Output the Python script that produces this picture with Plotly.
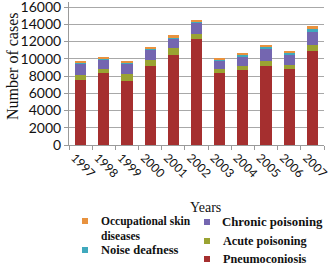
import plotly.graph_objects as go

years = ["1997", "1998", "1999", "2000", "2001", "2002", "2003", "2004", "2005", "2006", "2007"]
pneumoconiosis = [7550, 8300, 7450, 9150, 10450, 12250, 8400, 8750, 9150, 8800, 10950]
acute_poisoning = [550, 500, 800, 720, 760, 650, 470, 400, 580, 500, 650]
chronic_poisoning = [1300, 1100, 1150, 1150, 1150, 1250, 880, 1150, 1450, 1150, 1550]
noise_deafness = [120, 120, 110, 150, 150, 130, 120, 150, 200, 220, 260]
skin_diseases = [150, 150, 150, 200, 200, 180, 150, 180, 230, 260, 330]
y_ticks = [0, 2000, 4000, 6000, 8000, 10000, 12000, 14000, 16000]

names = ["Pneumoconiosis", "Acute poisoning", "Chronic poisoning", "Noise deafness", "Occupational skin diseases"]
colors = ["#A52F2F", "#9AA332", "#7466B0", "#3FA9BD", "#E8923E"]
series = [pneumoconiosis, acute_poisoning, chronic_poisoning, noise_deafness, skin_diseases]

W, H = 331, 266
L, R, T, B = 69, 7, 2, 121
Y_TOP = 16000 * (H - B - T) / 138.0

fig = go.Figure()
for nm, col, vals in zip(names, colors, series):
    fig.add_trace(go.Bar(x=years, y=vals, name=nm, marker=dict(color=col, line=dict(width=0)),
                         showlegend=False))

def px(xp):
    return (xp - L) / (W - L - R)

def py(yp):
    return (H - B - yp) / (H - T - B)

legend_items = [
    ("Occupational skin<br>diseases", colors[4], 85, 221, 99, 11.5, 228),
    ("Noise deafness", colors[3], 85, 250, 99, 12.5, 250),
    ("Chronic poisoning", colors[2], 207, 222, 220, 12.8, 222),
    ("Acute poisoning", colors[1], 207, 241, 221, 12.2, 241),
    ("Pneumoconiosis", colors[0], 207, 259, 221, 12.2, 259),
]
shapes = []
annotations = []
for text, col, sx, sy, tx, fs, ty in legend_items:
    shapes.append(dict(type="rect", xref="paper", yref="paper",
                       x0=px(sx - 3), x1=px(sx + 3), y0=py(sy + 3), y1=py(sy - 3),
                       fillcolor=col, line=dict(width=0)))
    annotations.append(dict(text="<b>" + text + "</b>", xref="paper", yref="paper",
                            x=px(tx), y=py(ty), xanchor="left", yanchor="middle",
                            showarrow=False, align="left",
                            font=dict(family="Liberation Serif", size=fs, color="#111111")))

annotations.append(dict(text="Years", xref="paper", yref="paper", x=px(205), y=py(207),
                        xanchor="center", yanchor="middle", showarrow=False,
                        font=dict(family="Liberation Serif", size=14, color="#111111")))
annotations.append(dict(text="Number of cases", xref="paper", yref="paper", x=px(12), y=py(66),
                        xanchor="center", yanchor="middle", showarrow=False, textangle=-90,
                        font=dict(family="Liberation Serif", size=16, color="#111111")))

fig.update_layout(
    width=W, height=H,
    margin=dict(l=L, r=R, t=T, b=B),
    barmode="stack",
    bargap=0.52,
    plot_bgcolor="white",
    paper_bgcolor="white",
    shapes=shapes,
    annotations=annotations,
    xaxis=dict(
        type="category",
        automargin=False,
        tickangle=45,
        ticklabelshift=-6,
        tickfont=dict(family="Lato", size=12, color="#111111"),
        showline=True, linecolor="#9A9A9A", linewidth=1,
        ticks="outside", tickson="boundaries", ticklen=4, tickcolor="#9A9A9A",
        showgrid=False,
    ),
    yaxis=dict(
        automargin=False,
        range=[0, Y_TOP],
        tickmode="array",
        tickvals=y_ticks,
        ticktext=[str(v) for v in y_ticks],
        ticklabeloverflow="allow",
        tickfont=dict(family="Lato", size=14, color="#111111"),
        showline=True, linecolor="#9A9A9A", linewidth=1,
        ticks="outside", ticklen=4, tickcolor="#9A9A9A",
        showgrid=True, gridcolor="#A8A8A8", gridwidth=1,
        zeroline=False,
    ),
)

fig.write_html("out.html", config={"displayModeBar": False},
               post_script="document.body.style.margin='0';document.body.style.overflow='hidden';")
